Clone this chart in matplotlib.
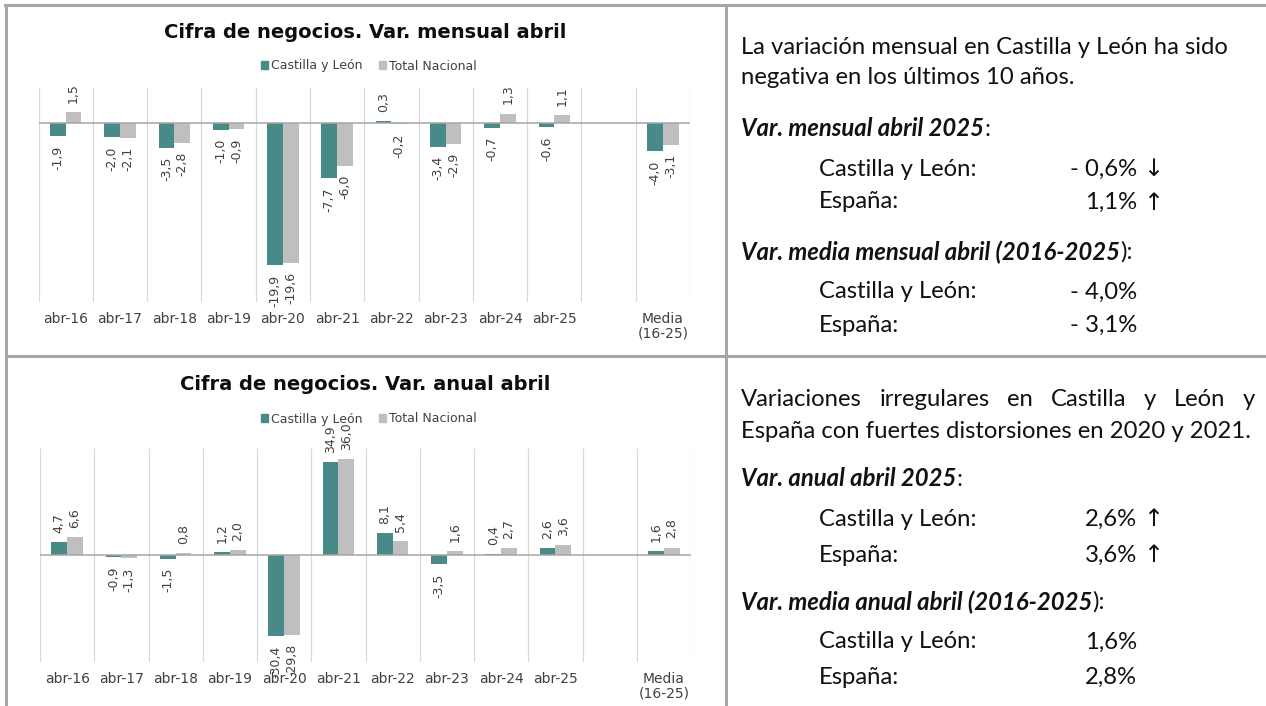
"""
Cifra de negocios - variación mensual y anual de abril
Castilla y León frente a Total Nacional, con texto de comentario a la derecha
"""
import matplotlib
matplotlib.use('Agg')
import matplotlib.pyplot as plt
from matplotlib.patches import Patch
from matplotlib.lines import Line2D
import numpy as np

W, H = 1266, 706

# datos
categorias = ['abr-16', 'abr-17', 'abr-18', 'abr-19', 'abr-20', 'abr-21',
              'abr-22', 'abr-23', 'abr-24', 'abr-25', '', 'Media\n(16-25)']
series = ['Castilla y León', 'Total Nacional']

mensual_cyl = [-1.9, -2.0, -3.5, -1.0, -19.9, -7.7, 0.3, -3.4, -0.7, -0.6, np.nan, -4.0]
mensual_nac = [1.5, -2.1, -2.8, -0.9, -19.6, -6.0, -0.2, -2.9, 1.3, 1.1, np.nan, -3.1]
anual_cyl = [4.7, -0.9, -1.5, 1.2, -30.4, 34.9, 8.1, -3.5, 0.4, 2.6, np.nan, 1.6]
anual_nac = [6.6, -1.3, 0.8, 2.0, -29.8, 36.0, 5.4, 1.6, 2.7, 3.6, np.nan, 2.8]

texto_mensual = ['La variación mensual en Castilla y León ha sido',
                 'negativa en los últimos 10 años.']
texto_anual = ['Variaciones irregulares en Castilla y León y',
               'España con fuertes distorsiones en 2020 y 2021.']

COL_CYL = '#478A87'
COL_NAC = '#BFBFBF'
COL_TXT = '#404040'
COL_MARCO = '#A6A6A6'


def px(x, y):
    # pixel (desde arriba a la izquierda) -> fracción de figura
    return (x / W, 1 - y / H)


def fmt(v):
    return f'{v:.1f}'.replace('.', ',')


def fmt_pct(v):
    return ('- ' if v < 0 else '') + fmt(abs(v)) + '%'


fig = plt.figure(figsize=(W / 100, H / 100), dpi=100)
renderer = fig.canvas.get_renderer()


def grafico(rect, cyl, nac, ylim, titulo, y_titulo, y_leyenda):
    ax = fig.add_axes(rect)
    x = np.arange(len(categorias))
    w = 0.29
    ax.bar(x - w / 2, cyl, w, color=COL_CYL, label=series[0])
    ax.bar(x + w / 2, nac, w, color=COL_NAC, label=series[1])

    # etiquetas de valor
    for xs, vals in ((x - w / 2, cyl), (x + w / 2, nac)):
        for xi, v in zip(xs, vals):
            if np.isnan(v):
                continue
            ax.annotate(fmt(v), (xi, v), xytext=(0, 6.5 if v >= 0 else -6.5),
                        textcoords='offset points', rotation=90,
                        ha='center', va='bottom' if v >= 0 else 'top',
                        fontsize=9, color=COL_TXT, annotation_clip=False)

    ax.set_xlim(-0.5, len(categorias) - 0.5)
    ax.set_ylim(*ylim)
    ax.vlines(np.arange(len(categorias) + 1) - 0.5, ylim[0], ylim[1],
              color='#D9D9D9', lw=0.9, zorder=0)
    ax.axhline(0, color='#A6A6A6', lw=1.1, zorder=1)

    ax.set_xticks(x)
    ax.set_xticklabels(categorias, fontsize=10, color=COL_TXT, linespacing=1.05)
    ax.tick_params(axis='x', length=0, pad=7)
    ax.set_yticks([])
    for s in ax.spines.values():
        s.set_visible(False)

    fig.text(*px(365.5, y_titulo), titulo, ha='center', va='center',
             fontsize=14, fontweight='bold', color='#0D0D0D')
    handles = [Patch(color=COL_CYL), Patch(color=COL_NAC)]
    fig.legend(handles, series, loc='center', bbox_to_anchor=px(369, y_leyenda),
               ncol=2, frameon=False, fontsize=9, handlelength=0.55,
               handleheight=0.55, handletextpad=0.25, columnspacing=1.3,
               labelcolor=COL_TXT)
    return ax


grafico([38.6 / W, 1 - 302 / H, (690 - 38.6) / W, (302 - 87) / H],
        mensual_cyl, mensual_nac, (-25, 5),
        'Cifra de negocios. Var. mensual abril', 32, 66)
grafico([40 / W, 1 - 662 / H, (691 - 40) / W, (662 - 448) / H],
        anual_cyl, anual_nac, (-40, 40),
        'Cifra de negocios. Var. anual abril', 385, 419)

# marco tipo tabla
for (x0, y0), (x1, y1) in [((5, 5), (1266, 5)), ((6, 5), (6, 706)),
                           ((726, 5), (726, 706)), ((6, 356), (1266, 356))]:
    a, b = px(x0, y0), px(x1, y1)
    fig.add_artist(Line2D([a[0], b[0]], [a[1], b[1]], transform=fig.transFigure,
                          color=COL_MARCO, lw=2.2))

# texto de la derecha: tamaño ajustado para que las líneas largas quepan
FUENTE = 'Lato'
TAM = 20
for linea in (texto_mensual[0], texto_anual[1]):
    t = fig.text(0, 0, linea, fontsize=10, family=FUENTE)
    TAM = min(TAM, 10 * 512 / t.get_window_extent(renderer).width)
    t.remove()

X0, X1, XIND, XVAL, XFLE = 741, 1255, 819, 1137, 1143


def texto(x, y, s, ha='left', **kw):
    kw.setdefault('family', FUENTE)
    return fig.text(*px(x, y), s, ha=ha, va='center_baseline', fontsize=TAM,
                    color='#111111', **kw)


def justificado(linea, y):
    palabras = linea.split()
    ts = [texto(0, y, p) for p in palabras]
    anchos = [tt.get_window_extent(renderer).width for tt in ts]
    hueco = (X1 - X0 - sum(anchos)) / (len(palabras) - 1)
    x = X0
    for tt, an in zip(ts, anchos):
        tt.set_position(px(x, y))
        x += an + hueco


def titulo_bi(y, negrita, resto):
    tt = texto(X0, y, negrita, fontweight='bold', style='italic')
    an = tt.get_window_extent(renderer).width
    texto(X0 + an, y, resto)


def filas(ys, cyl, nac, flechas):
    for y, nombre, v in zip(ys, ['Castilla y León:', 'España:'], [cyl, nac]):
        texto(XIND, y, nombre)
        texto(XVAL, y, fmt_pct(v), ha='right')
        if flechas:
            texto(XFLE, y, '↓' if v < 0 else '↑', family='DejaVu Sans')


# panel mensual
texto(X0, 45, texto_mensual[0])
texto(X0, 75, texto_mensual[1])
titulo_bi(127, 'Var. mensual abril 2025', ':')
filas([167, 200], mensual_cyl[9], mensual_nac[9], True)
titulo_bi(250, 'Var. media mensual abril (2016-2025', '):')
filas([290, 323], mensual_cyl[11], mensual_nac[11], False)

# panel anual
justificado(texto_anual[0], 397)
texto(X0, 430, texto_anual[1])
titulo_bi(477, 'Var. anual abril 2025', ':')
filas([517, 553], anual_cyl[9], anual_nac[9], True)
titulo_bi(600, 'Var. media anual abril (2016-2025', '):')
filas([640, 675], anual_cyl[11], anual_nac[11], False)

fig.savefig('out.png', dpi=100, facecolor='white')
plt.close(fig)
